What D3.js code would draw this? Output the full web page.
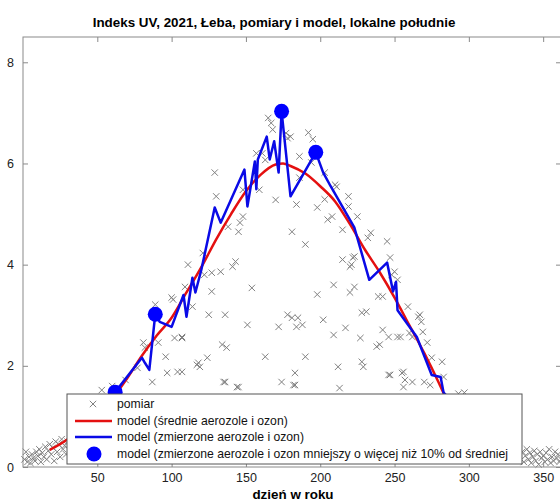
<!DOCTYPE html>
<html>
<head>
<meta charset="utf-8">
<script src="https://cdn.jsdelivr.net/npm/d3@7"></script>
<style>
  body { margin: 0; background: #fff; }
  svg { font-family: "Liberation Sans", Arial, sans-serif; }
</style>
</head>
<body>
<svg id="uvChart" width="560" height="502"></svg>
<script>
// pomiar: [dzień, indeks UV]
var measured = [
  [1,0.15],[2,0.3],[3,0.1],[4,0.2],[5,0.08],[6,0.25],[7,0.18],[8,0.12],[9,0.3],[10,0.22],
  [11,0.35],[12,0.1],[13,0.28],[14,0.2],[15,0.4],[16,0.15],[17,0.32],[18,0.45],[19,0.25],[20,0.38],
  [21,0.12],[22,0.5],[23,0.3],[24,0.45],[25,0.2],[26,0.55],[27,0.35],[28,0.42],[29,0.25],[30,0.5],
  [35,0.6],[40,0.8],[45,0.7],[50,1.0],[53,1.52],[55,0.9],[60,1.6],[69,1.72],[77,1.96],[81,2.46],
  [82,2.36],[87,1.68],[89,3.21],[91,2.46],[96,2.18],[97,1.86],[100,3.35],[101,3.31],[102,2.55],[104,1.88],
  [107,2.55],[107,2.57],[107,1.88],[109,3.56],[111,4.0],[114,3.17],[117,2.02],[118,2.06],[119,1.98],[121,4.23],
  [122,3.8],[124,2.16],[125,3.01],[127,3.84],[127,3.47],[129,5.82],[130,5.35],[133,3.86],[134,2.42],[135,1.68],
  [136,3.01],[136,1.68],[137,2.36],[138,4.75],[141,3.96],[143,4.06],[144,1.58],[145,4.65],[145,1.58],[146,4.83],
  [148,5.48],[148,4.95],[151,2.81],[154,3.54],[157,6.2],[159,5.48],[161,6.2],[163,6.07],[163,2.18],[165,6.9],
  [167,6.8],[168,6.67],[170,5.28],[172,2.77],[174,1.68],[177,6.6],[178,6.5],[178,3.01],[180,6.53],[181,4.65],
  [181,2.95],[182,1.62],[183,1.86],[183,1.62],[184,5.19],[184,2.77],[185,2.95],[186,6.14],[186,5.72],[188,2.81],
  [190,4.4],[190,2.18],[192,6.61],[194,6.02],[195,6.48],[198,5.13],[198,3.41],[202,2.91],[203,5.82],[203,5.29],
  [205,4.89],[208,4.95],[209,3.6],[209,2.61],[210,5.58],[211,5.54],[212,1.98],[213,1.56],[215,4.69],[215,4.1],
  [217,2.75],[219,5.35],[219,5.15],[220,3.45],[220,3.96],[221,4.0],[222,4.14],[223,4.16],[223,3.56],[225,4.95],
  [227,2.55],[228,3.05],[228,2.08],[229,1.98],[231,3.07],[232,4.53],[234,4.63],[238,2.38],[239,3.37],[240,2.42],
  [242,3.37],[242,2.71],[245,4.46],[246,2.57],[246,1.82],[247,4.14],[247,1.82],[248,3.8],[250,3.86],[252,3.7],
  [252,2.57],[254,2.57],[255,1.86],[256,1.88],[256,1.58],[257,1.72],[259,3.17],[260,2.65],[262,1.68],[262,2.57],
  [266,2.97],[267,3.01],[268,2.87],[269,2.67],[270,1.68],[272,2.46],[274,1.62],[275,2.16],[282,2.08],[283,1.78],
  [290,1.2],[293,1.45],[297,1.47],[300,0.9],[310,0.7],[320,0.5],[330,0.35],
  [336,0.3],[337,0.1],[338,0.22],[339,0.35],[340,0.15],[341,0.28],[342,0.08],[343,0.2],[344,0.32],[345,0.12],
  [346,0.25],[347,0.05],[348,0.3],[349,0.18],[350,0.22],[351,0.1],[352,0.28],[353,0.15],[354,0.35],[355,0.08],
  [356,0.2],[357,0.12],[358,0.3],[359,0.18],[360,0.25],[361,0.1],[362,0.15]
];

// model (średnie aerozole i ozon)
var modelMean = [
  [18,0.34],[30,0.55],[45,0.95],[60,1.35],[70,1.75],[80,2.2],[90,2.6],[100,2.95],[110,3.45],[120,3.95],
  [130,4.5],[140,5.0],[150,5.45],[160,5.78],[170,5.98],[175,6.0],[180,5.95],[190,5.8],[200,5.55],[210,5.25],
  [220,4.8],[230,4.3],[240,3.85],[250,3.35],[260,2.8],[270,2.25],[280,1.65],[283,1.46],[290,1.2],[300,0.9],
  [310,0.65],[320,0.45],[330,0.3]
];

// model (zmierzone aerozole i ozon)
var modelMeasured = [
  [30,0.6],[40,0.85],[50,1.15],[55,1.3],[62,1.48],[80,2.16],[82,2.06],[85,1.92],[89,3.02],[92,2.87],
  [100,2.77],[108,3.4],[110,2.97],[114,3.74],[116,3.45],[120,3.9],[129,5.13],[133,4.83],[149,5.88],[151,5.15],
  [156,6.04],[157,5.49],[158,6.08],[164,6.53],[166,6.08],[169,6.44],[172,5.82],[174,7.03],[180,5.35],[197,6.22],
  [202,5.82],[207,5.55],[223,4.73],[233,3.7],[245,4.04],[249,3.47],[251,3.66],[252,3.1],[265,2.57],[275,1.82],
  [281,1.78],[283,1.47],[295,1.1],[310,0.7],[325,0.4]
];

// model, gdy aerozole i ozon mniejsze o więcej niż 10% od średniej
var lowOzone = [[62,1.48],[89,3.02],[174,7.03],[197,6.22]];

var xTicks = [50,100,150,200,250,300,350];
var yTicks = [0,2,4,6,8];

var legendLabels = [
  "pomiar",
  "model (średnie aerozole i ozon)",
  "model (zmierzone aerozole i ozon)",
  "model (zmierzone aerozole i ozon mniejszy o więcej niż 10% od średniej"
];

(function uvChart() {
  var svg = d3.select("#uvChart");
  var left = 23, right = 561, plotTop = 37, plotBottom = 467;

  var x = d3.scaleLinear().domain([0, 362]).range([left, right]);
  var y = d3.scaleLinear().domain([0, 8.5]).range([plotBottom, plotTop]);

  var axisColor = "#8a8a8a";

  // ramka
  svg.append("rect")
    .attr("x", left).attr("y", plotTop)
    .attr("width", right - left).attr("height", plotBottom - plotTop)
    .attr("fill", "none").attr("stroke", axisColor).attr("stroke-width", 1);

  function styleAxis(g) {
    g.select(".domain").remove();
    g.selectAll(".tick line").attr("stroke", axisColor);
    g.selectAll(".tick text").attr("fill", "#222").attr("font-size", 12.5)
      .attr("font-family", "Liberation Sans, Arial, sans-serif");
  }

  svg.append("g")
    .attr("transform", "translate(0," + plotBottom + ")")
    .call(d3.axisBottom(x).tickValues(xTicks).tickSizeInner(-5).tickSizeOuter(0).tickPadding(6))
    .call(styleAxis);
  svg.append("g")
    .attr("transform", "translate(0," + plotTop + ")")
    .call(d3.axisTop(x).tickValues(xTicks).tickSizeInner(-5).tickSizeOuter(0).tickFormat(""))
    .call(styleAxis);
  svg.append("g")
    .attr("transform", "translate(" + left + ",0)")
    .call(d3.axisLeft(y).tickValues(yTicks).tickSizeInner(-5).tickSizeOuter(0).tickPadding(9))
    .call(styleAxis);
  svg.append("g")
    .attr("transform", "translate(" + right + ",0)")
    .call(d3.axisRight(y).tickValues(yTicks).tickSizeInner(-5).tickSizeOuter(0).tickFormat(""))
    .call(styleAxis);

  var plot = svg.append("g");

  function cross(sel, cx, cy, s) {
    sel.append("path")
      .attr("d", "M" + (cx - s) + "," + (cy - s) + "L" + (cx + s) + "," + (cy + s) +
                 "M" + (cx - s) + "," + (cy + s) + "L" + (cx + s) + "," + (cy - s))
      .attr("stroke", "#808080").attr("stroke-width", 1).attr("fill", "none");
  }

  measured.forEach(function (d) {
    cross(plot, x(d[0]), y(d[1]), 3.2);
  });

  var line = d3.line()
    .x(function (d) { return x(d[0]); })
    .y(function (d) { return y(d[1]); });

  plot.append("path")
    .datum(modelMean)
    .attr("d", line.curve(d3.curveMonotoneX))
    .attr("fill", "none").attr("stroke", "#e41010").attr("stroke-width", 2.5);

  plot.append("path")
    .datum(modelMeasured)
    .attr("d", line.curve(d3.curveLinear))
    .attr("fill", "none").attr("stroke", "#0a0ae6").attr("stroke-width", 2.5)
    .attr("stroke-linejoin", "round");

  plot.selectAll(".dot")
    .data(lowOzone)
    .enter().append("circle")
    .attr("class", "dot")
    .attr("cx", function (d) { return x(d[0]); })
    .attr("cy", function (d) { return y(d[1]); })
    .attr("r", 7.5)
    .attr("fill", "#0000ff");

  // legenda
  var lg = svg.append("g");
  lg.append("rect")
    .attr("x", 67).attr("y", 394)
    .attr("width", 455).attr("height", 70)
    .attr("fill", "#fff").attr("stroke", "#555").attr("stroke-width", 1);

  var rowY = [404, 421, 437, 454];
  cross(lg, 93, rowY[0], 3.2);
  lg.append("line").attr("x1", 75).attr("x2", 112).attr("y1", rowY[1]).attr("y2", rowY[1])
    .attr("stroke", "#e41010").attr("stroke-width", 2.5);
  lg.append("line").attr("x1", 75).attr("x2", 112).attr("y1", rowY[2]).attr("y2", rowY[2])
    .attr("stroke", "#0a0ae6").attr("stroke-width", 2.5);
  lg.append("circle").attr("cx", 94).attr("cy", rowY[3]).attr("r", 7.5).attr("fill", "#0000ff");

  lg.selectAll(".lgtext")
    .data(legendLabels)
    .enter().append("text")
    .attr("class", "lgtext")
    .attr("x", 117)
    .attr("y", function (d, i) { return rowY[i]; })
    .attr("dy", "0.35em")
    .attr("font-size", 12.2)
    .attr("fill", "#111")
    .text(function (d) { return d; });

  // tytuł i opis osi
  svg.append("text")
    .attr("x", 274).attr("y", 27)
    .attr("text-anchor", "middle")
    .attr("font-size", 13.4).attr("font-weight", "bold")
    .text("Indeks UV, 2021, Łeba, pomiary i model, lokalne południe");

  svg.append("text")
    .attr("x", 293).attr("y", 499)
    .attr("text-anchor", "middle")
    .attr("font-size", 13.4).attr("font-weight", "bold")
    .text("dzień w roku");
}());
</script>
</body>
</html>
